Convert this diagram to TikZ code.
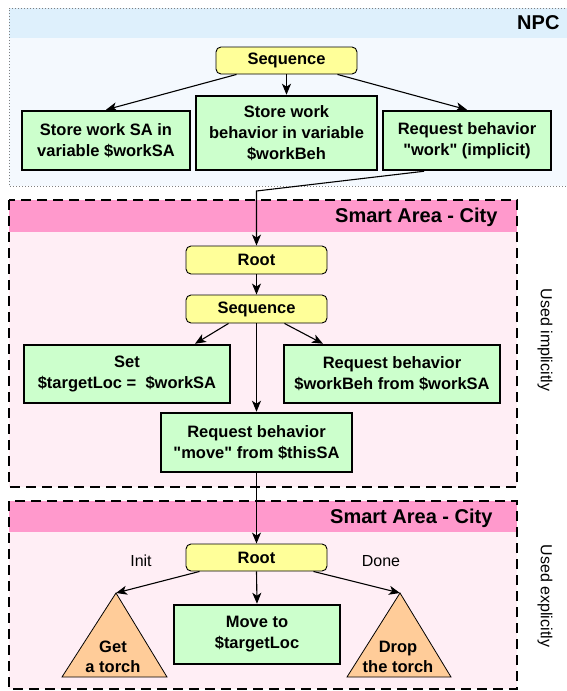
\documentclass[tikz,border=0pt]{standalone}
\usepackage{fontspec}
\setmainfont{Liberation Sans}[Ligatures=TeXOff]
\usetikzlibrary{arrows.meta,calc}
\definecolor{npcband}{HTML}{DEF0FC}
\definecolor{npcbody}{HTML}{F4F9FE}
\definecolor{saband}{HTML}{FF99CC}
\definecolor{sabody}{HTML}{FFEEF5}
\definecolor{ctrlyellow}{HTML}{FFFF99}
\definecolor{actgreen}{HTML}{CCFFCC}
\definecolor{subtreeorange}{HTML}{FFCC99}

\begin{document}
\begin{tikzpicture}[x=1pt,y=-1pt,
	font=\fontsize{16.5}{21}\selectfont\bfseries,
	ctrl/.style={draw,rounded corners=5pt,fill=ctrlyellow,line width=0.9pt,minimum width=141pt,minimum height=27pt,inner sep=1pt},
	act/.style={draw,fill=actgreen,line width=2.5pt,align=center,inner sep=2pt},
	subtree/.style={draw,fill=subtreeorange,line width=0.8pt},
	arr/.style={-{Stealth[length=11pt,width=9pt,inset=3pt]},line width=1.1pt},
	sapanel/.style={draw,line width=2.2pt,dash pattern=on 10pt off 6pt},
	title/.style={anchor=east,font=\fontsize{20}{24}\selectfont\bfseries},
	side/.style={rotate=-90,font=\fontsize{16}{20}\selectfont}]
	\useasboundingbox (0,0) rectangle (566,691);
	\fill[npcbody] (9,8) rectangle (580,186);
	\fill[npcband] (9,8) rectangle (580,38);
	\draw[gray,line width=0.8pt,dash pattern=on 1pt off 2pt] (580,8) -- (9,8) -- (9,186) -- (580,186);
	\node[title] (npc) at (563,23) {NPC};
	\fill[sabody] (9,200) rectangle (517,487);
	\fill[saband] (9,200) rectangle (517,232);
	\draw[sapanel] (9,200) rectangle (517,487);
	\node[title] (saTop) at (501,217) {Smart Area - City};
	\fill[sabody] (9,501) rectangle (517,689);
	\fill[saband] (9,501) rectangle (517,532);
	\draw[sapanel] (9,501) rectangle (517,689);
	\node[title] (saBottom) at (496,518) {Smart Area - City};
	\node[side] (implicit) at (545,340) {Used implicitly};
	\node[side] (explicit) at (545,596) {Used explicitly};

	\node[ctrl] (seqNpc) at (286.5,60.5) {Sequence};
	\node[act,minimum width=168pt,minimum height=59pt] (storeSA) at (106,140.5) {Store work SA in\\variable \$workSA};
	\node[act,minimum width=181pt,minimum height=74pt] (storeBeh) at (286.5,133) {Store work\\behavior in variable\\\$workBeh};
	\node[act,minimum width=168pt,minimum height=59pt] (reqWork) at (467,140.5) {Request behavior\\"work" (implicit)};
	\draw[arr] ([xshift=-50pt]seqNpc.south) -- (storeSA.north);
	\draw[arr] (seqNpc.south) -- (storeBeh.north);
	\draw[arr] ([xshift=51pt]seqNpc.south) -- (reqWork.north);

	\node[ctrl,minimum height=28pt] (root) at (256.5,260) {Root};
	\node[ctrl,minimum height=28pt] (seqSA) at (256.5,309) {Sequence};
	\node[act,minimum width=206pt,minimum height=58pt] (setLoc) at (127,374) {Set\\\$targetLoc = \ \$workSA};
	\node[act,minimum width=216pt,minimum height=58pt] (reqBeh) at (392,374) {Request behavior\\\$workBeh from \$workSA};
	\node[act,minimum width=191pt,minimum height=59pt] (reqMove) at (256.5,442.5) {Request behavior\\"move" from \$thisSA};
	\coordinate (bend) at (256.5,191);
	\draw[arr] ([xshift=-43pt]reqWork.south) -- (bend) -- (root.north);
	\draw[arr] (root.south) -- (seqSA.north);
	\draw[arr] ([xshift=-28pt]seqSA.south) -- ([xshift=68pt]setLoc.north);
	\draw[arr] ([xshift=28pt]seqSA.south) -- ([xshift=-69pt]reqBeh.north);
	\draw[arr] (seqSA.south) -- (reqMove.north);

	\node[ctrl] (rootMove) at (256.5,557.5) {Root};
	\node[act,minimum width=166pt,minimum height=59pt] (moveTo) at (257,634.5) {Move to\\\$targetLoc};
	\draw[subtree] (116,593) coordinate (getTop) -- (167,677) -- (62,677) -- cycle;
	\draw[subtree] (400,593) coordinate (dropTop) -- (451,677) -- (347,677) -- cycle;
	\node[align=center,font=\fontsize{16.5}{19.5}\selectfont\bfseries] (getTxt) at (113,657) {Get\\a torch};
	\node[align=center,font=\fontsize{16.5}{19.5}\selectfont\bfseries] (dropTxt) at (398,657) {Drop\\the torch};
	\node[font=\fontsize{16}{20}\selectfont] (init) at (141,561) {Init};
	\node[font=\fontsize{16}{20}\selectfont] (done) at (381,561) {Done};
	\draw[arr] (reqMove.south) -- (rootMove.north);
	\draw[arr] ([xshift=-57pt]rootMove.south) -- (getTop);
	\draw[arr] (rootMove.south) -- (moveTo.north);
	\draw[arr] ([xshift=57pt]rootMove.south) -- (dropTop);
\end{tikzpicture}
\end{document}
